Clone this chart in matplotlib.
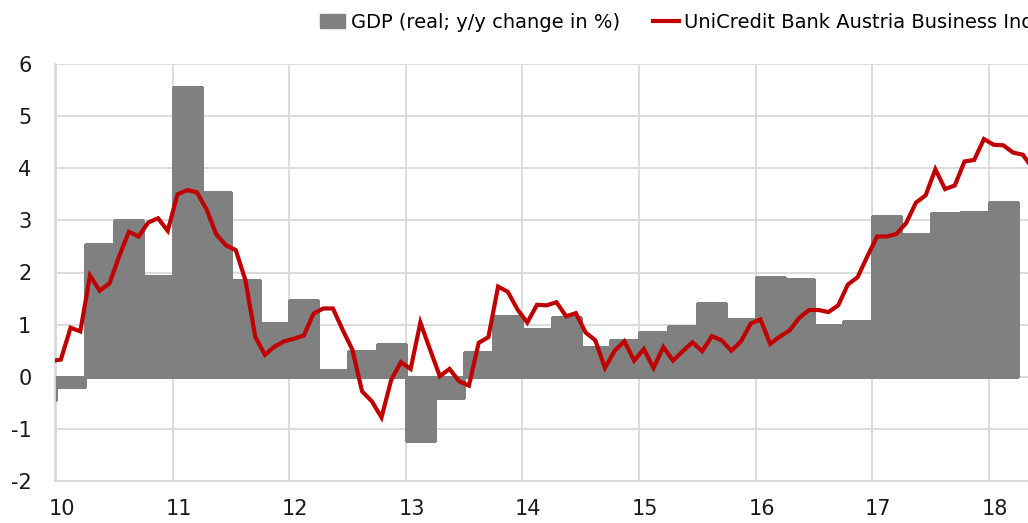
import numpy as np
import matplotlib
matplotlib.use("Agg")
import matplotlib.pyplot as plt
import matplotlib.transforms as mtransforms
from matplotlib.patches import Patch
from matplotlib.lines import Line2D

# quarterly GDP, real y/y change in %, from 2009 Q4 to 2018 Q1
gdp_start = 2009.75
gdp = [-0.45,
       -0.2, 2.55, 3.0, 1.93,
       5.56, 3.55, 1.85, 1.04,
       1.48, 0.13, 0.49, 0.63,
       -1.23, -0.4, 0.48, 1.17,
       0.92, 1.15, 0.57, 0.71,
       0.86, 0.98, 1.42, 1.10,
       1.91, 1.87, 1.0, 1.07,
       3.09, 2.73, 3.15, 3.17,
       3.36]

# monthly business indicator, Dec 2009 to May 2018
ind_start = 2009 + 11 / 12
indicator = [0.30,
             0.33, 0.94, 0.87, 1.94, 1.65, 1.79, 2.31, 2.78, 2.69, 2.96, 3.04, 2.80,
             3.50, 3.58, 3.54, 3.21, 2.73, 2.52, 2.43, 1.85, 0.77, 0.42, 0.58, 0.68,
             0.73, 0.79, 1.21, 1.31, 1.31, 0.90, 0.52, -0.28, -0.47, -0.78, -0.06, 0.28,
             0.15, 1.04, 0.52, 0.01, 0.15, -0.09, -0.17, 0.65, 0.76, 1.73, 1.63, 1.29,
             1.04, 1.38, 1.37, 1.43, 1.16, 1.22, 0.85, 0.70, 0.17, 0.50, 0.68, 0.31,
             0.53, 0.17, 0.57, 0.31, 0.49, 0.66, 0.49, 0.78, 0.70, 0.50, 0.68, 1.02,
             1.10, 0.63, 0.77, 0.89, 1.13, 1.28, 1.28, 1.24, 1.37, 1.77, 1.91, 2.31,
             2.69, 2.69, 2.74, 2.95, 3.34, 3.48, 3.98, 3.60, 3.67, 4.13, 4.16, 4.56,
             4.45, 4.44, 4.30, 4.26, 4.00]

years = list(range(2010, 2019))
year_labels = [str(y % 100) for y in years]
gdp_label = "GDP (real; y/y change in %)"
ind_label = "UniCredit Bank Austria Business Indicator (Austria)"

grid_c = "#d9d9d9"
bar_c = "#808080"
red = "#c00000"

plt.rcParams["font.family"] = ["DejaVu Sans"]
plt.rcParams["axes.unicode_minus"] = False

fig = plt.figure(figsize=(10.28, 5.23), dpi=100)
px_year = 116.6
ax = fig.add_axes([55 / 1028, 42 / 523, 973 / 1028, 417 / 523])

# bars touch each other, so draw them with an edge of the same colour
x_q = gdp_start + 0.25 * np.arange(len(gdp))
ax.bar(x_q, gdp, width=0.25, align="edge", color=bar_c, edgecolor=bar_c,
       linewidth=1.0, antialiased=False, zorder=2)

x_m = ind_start + (np.arange(len(indicator)) + 0.5) / 12
ax.plot(x_m, indicator, color=red, lw=3.0, zorder=3, solid_joinstyle="miter")

ax.set_xlim(2010 - 1 / px_year, 2010 - 1 / px_year + 973 / px_year)
ax.set_ylim(-2, 6)
ax.set_yticks(range(-2, 7))
ax.set_xticks(years)
ax.set_xticklabels(year_labels)
ax.grid(True, color=grid_c, lw=1.3, zorder=0)
ax.set_axisbelow(True)
for s in ["top", "right"]:
    ax.spines[s].set_visible(False)
for s in ["left", "bottom"]:
    ax.spines[s].set_color(grid_c)
    ax.spines[s].set_linewidth(1.3)
ax.tick_params(length=0, labelsize=15, colors="#1a1a1a")
ax.tick_params(axis="y", pad=17)
ax.tick_params(axis="x", pad=13)

# labels sit slightly right of the gridline
offset = mtransforms.ScaledTranslation(6 / 100, 0, fig.dpi_scale_trans)
for lab in ax.get_xticklabels():
    lab.set_transform(lab.get_transform() + offset)

handles = [Patch(facecolor=bar_c, edgecolor=bar_c, label=gdp_label),
           Line2D([], [], color=red, lw=3.0, label=ind_label)]
fig.legend(handles=handles, loc="center left", bbox_to_anchor=(320 / 1028, 1 - 22 / 523),
           ncol=2, frameon=False, fontsize=14, handlelength=1.3, handleheight=0.75,
           handletextpad=0.3, columnspacing=1.7, borderpad=0, borderaxespad=0)

fig.savefig("out.png", dpi=100)
